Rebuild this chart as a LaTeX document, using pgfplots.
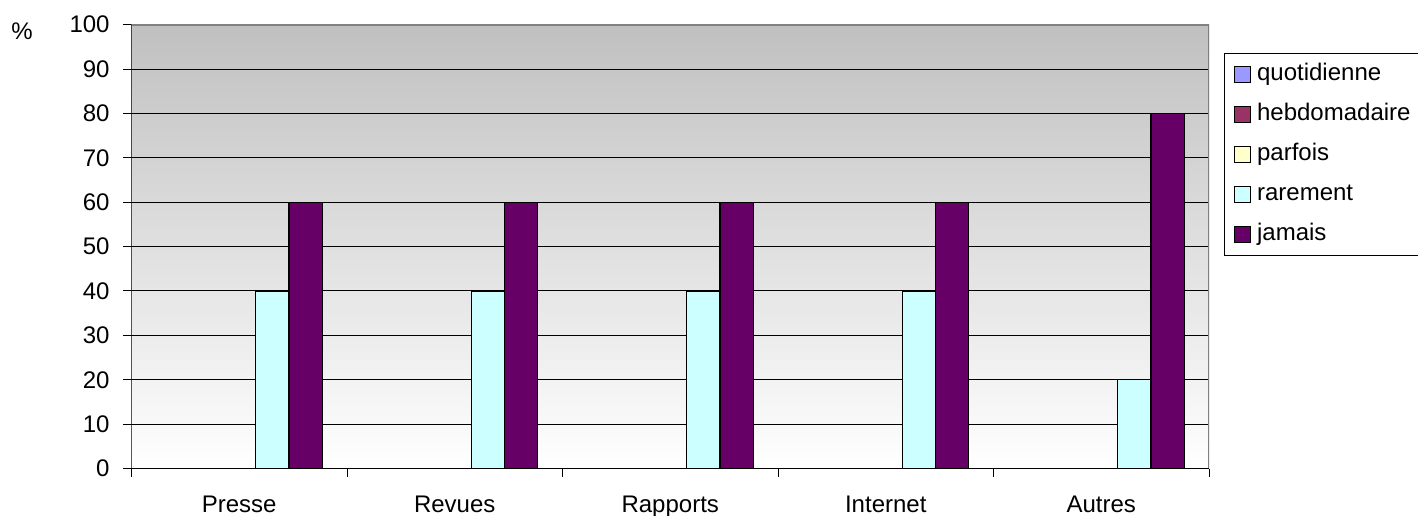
\documentclass[border=0pt]{standalone}
\usepackage{pgfplots}
\pgfplotsset{compat=1.18}
\usepackage{fontspec}
\setmainfont{Liberation Sans}
\definecolor{quot}{HTML}{9999FF}
\definecolor{hebdo}{HTML}{993366}
\definecolor{parf}{HTML}{FFFFCC}
\definecolor{rare}{HTML}{CCFFFF}
\definecolor{jam}{HTML}{660066}
\definecolor{bgtop}{HTML}{C0C0C0}
\definecolor{frame}{HTML}{808080}
\begin{document}
\begin{tikzpicture}
\begin{axis}[
  at={(0,0)}, anchor=south west,
  scale only axis,
  width=538.75pt, height=221.9pt,
  ybar=0pt, bar width=16.6pt,
  xmin=-0.5, xmax=4.5, ymin=0, ymax=100,
  xtick={0,1,2,3,4},
  xticklabels={Presse,Revues,Rapports,Internet,Autres},
  minor xtick={-0.5,0.5,1.5,2.5,3.5,4.5},
  ytick={0,10,...,100},
  tick pos=left,
  tick align=outside,
  major tick length=4pt, minor tick length=4pt,
  major x tick style={draw=none},
  minor x tick style={black, line width=0.5pt},
  y tick style={black, line width=0.5pt},
  ymajorgrids, major grid style={black, line width=0.5pt},
  axis line style={draw=none},
  axis background/.style={top color=bgtop, bottom color=white},
  tick label style={font=\fontsize{12}{14}\selectfont},
  /pgf/number format/assume math mode=true,
  yticklabel style={anchor=east, inner sep=0pt, xshift=-6.75pt},
  xticklabel style={anchor=base, inner sep=0pt, yshift=-18pt},
  legend image code/.code={\draw[#1,/tikz/.cd,line width=0.5pt] (0pt,-1pt) rectangle (8pt,7pt);},
  legend style={at={(1.01392,0.93623)}, anchor=north west, draw=black, line width=0.5pt, fill=white,
    inner xsep=4.5pt, inner ysep=5.5pt, row sep=10pt,
    font=\fontsize{12}{14}\selectfont,
    nodes={inner sep=0pt, text height=8pt, text depth=2pt, anchor=base west},
    /tikz/every odd column/.style={column sep=3.3pt},
    /tikz/every even column/.style={nodes={text width=90pt}}},
  legend cell align=left,
  every axis plot/.append style={draw=black, line width=0.6pt},
]
\addplot[fill=quot] coordinates {(0,0) (1,0) (2,0) (3,0) (4,0)};
\addplot[fill=hebdo] coordinates {(0,0) (1,0) (2,0) (3,0) (4,0)};
\addplot[fill=parf] coordinates {(0,0) (1,0) (2,0) (3,0) (4,0)};
\addplot[fill=rare] coordinates {(0,40) (1,40) (2,40) (3,40) (4,20)};
\addplot[fill=jam] coordinates {(0,60) (1,60) (2,60) (3,60) (4,80)};
\legend{quotidienne,hebdomadaire,parfois,rarement,jamais}
\draw[frame, line width=1pt] (rel axis cs:0,1) -- (rel axis cs:1,1) -- (rel axis cs:1,0);
\draw[black, line width=0.5pt] (rel axis cs:0,1) -- (rel axis cs:0,0) -- (rel axis cs:1,0);
\end{axis}
\node[font=\fontsize{12}{14}\selectfont] at (-54.75pt,218.75pt) {\%};
\pgfresetboundingbox
\path[use as bounding box] (-65.75pt,-23.25pt) rectangle (643.25pt,234.25pt);
\end{tikzpicture}
\end{document}
